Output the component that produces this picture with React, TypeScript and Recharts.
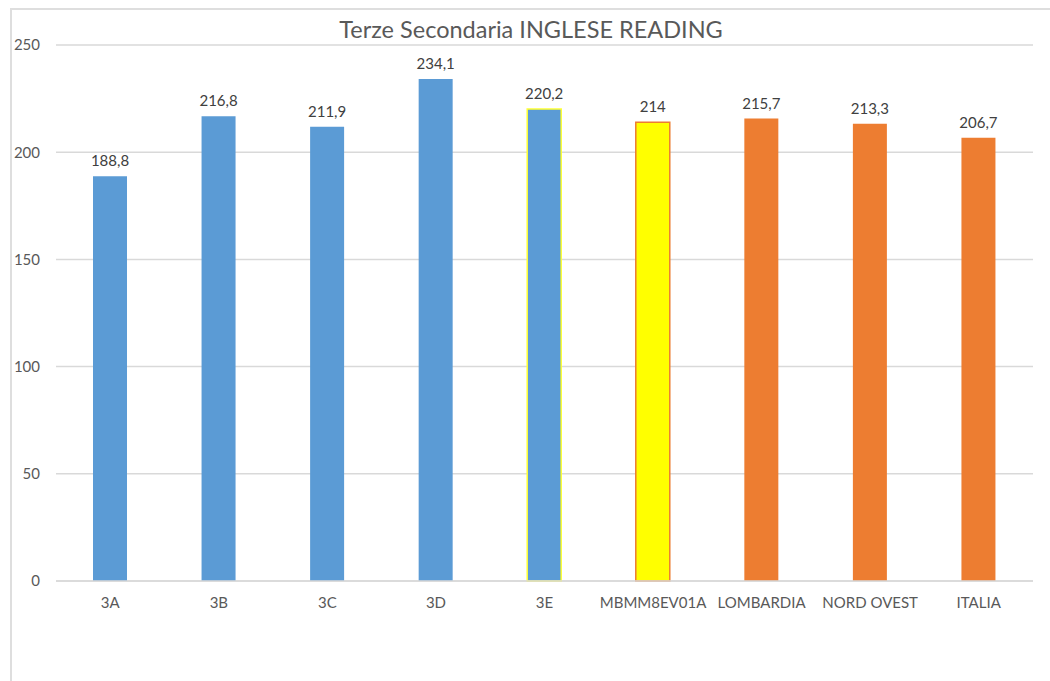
import React from 'react';
import { BarChart, Bar, XAxis, YAxis, CartesianGrid, LabelList, Cell } from 'recharts';

const categories = ['3A', '3B', '3C', '3D', '3E', 'MBMM8EV01A', 'LOMBARDIA', 'NORD OVEST', 'ITALIA'];
const values = [188.8, 216.8, 211.9, 234.1, 220.2, 214, 215.7, 213.3, 206.7];
const fills = ['#5B9BD5', '#5B9BD5', '#5B9BD5', '#5B9BD5', '#5B9BD5', '#FFFF00', '#ED7D31', '#ED7D31', '#ED7D31'];
const strokes = ['none', 'none', 'none', 'none', '#FFFF33', '#ED7D31', 'none', 'none', 'none'];
const yTicks = [0, 50, 100, 150, 200, 250];
const title = 'Terze Secondaria INGLESE READING';

const data = categories.map((c, i) => ({ name: c, value: values[i] }));

const FONT = 'Lato, "Open Sans", sans-serif';

export default function App() {
  return (
    <div style={{ position: 'absolute', left: 0, top: 0, width: 1050, height: 681, background: '#fff', overflow: 'hidden' }}>
      <div style={{ position: 'absolute', left: 10, top: 8, width: 1050, height: 700, borderTop: '2px solid #dedede', borderLeft: '2px solid #dedede' }} />
      <div style={{ position: 'absolute', left: 10, width: 1042, top: 15, textAlign: 'center', fontFamily: FONT, fontSize: 23.5, color: '#595959' }}>{title}</div>
      <div style={{ position: 'absolute', left: 0, top: 0 }}>
        <BarChart width={1050} height={681} data={data} margin={{ top: 45, right: 17, bottom: 70, left: 0 }}>
          <CartesianGrid vertical={false} stroke="#d9d9d9" strokeWidth={1.5} />
          <XAxis dataKey="name" axisLine={{ stroke: '#d9d9d9', strokeWidth: 1.5 }} tickLine={false} tickSize={0} tickMargin={16}
            tick={{ fill: '#595959', fontSize: 15, fontFamily: FONT }} interval={0} />
          <YAxis domain={[0, 250]} ticks={yTicks} width={56} axisLine={false} tickLine={false} tickSize={0} tickMargin={16}
            tick={{ fill: '#595959', fontSize: 15, fontFamily: FONT }} />
          <Bar dataKey="value" barSize={34} isAnimationActive={false}>
            {data.map((d, i) => (
              <Cell key={d.name} fill={fills[i]} stroke={strokes[i]} strokeWidth={strokes[i] === 'none' ? 0 : 1.5} />
            ))}
            <LabelList dataKey="value" position="top" offset={10}
              formatter={(v: any) => String(v).replace('.', ',')}
              style={{ fill: '#404040', fontSize: 15, fontFamily: FONT }} />
          </Bar>
        </BarChart>
      </div>
    </div>
  );
}
